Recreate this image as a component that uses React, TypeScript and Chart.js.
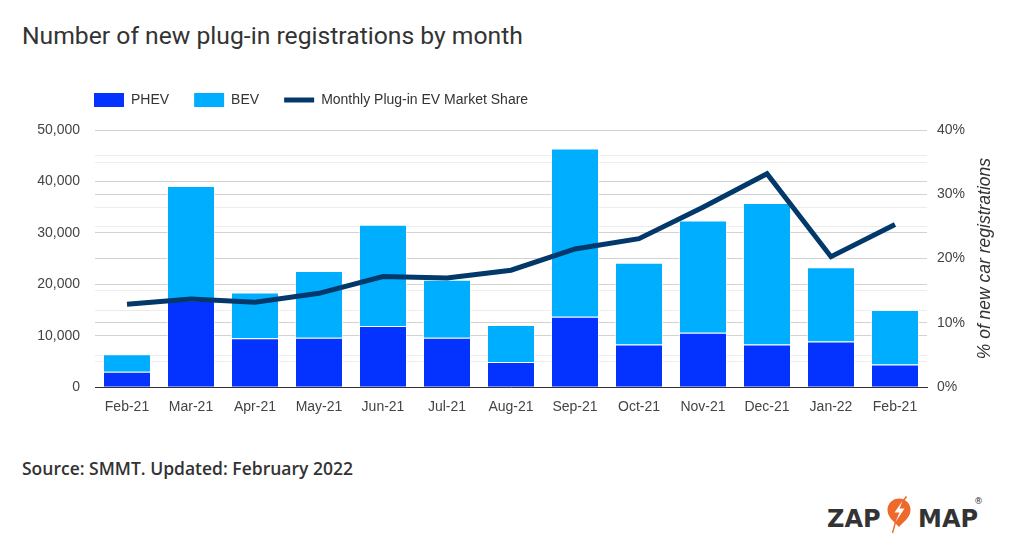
import React, { useEffect, useRef } from 'react';
import { Chart, registerables } from 'chart.js';

Chart.register(...registerables);

const categories = ['Feb-21', 'Mar-21', 'Apr-21', 'May-21', 'Jun-21', 'Jul-21', 'Aug-21', 'Sep-21', 'Oct-21', 'Nov-21', 'Dec-21', 'Jan-22', 'Feb-21'];
const phevValues = [3000, 16900, 9500, 9600, 11900, 9600, 4900, 13700, 8300, 10600, 8300, 8900, 4400];
const bevValues = [3400, 22200, 8900, 13000, 19700, 11300, 7200, 32700, 15900, 21800, 27500, 14400, 10600];
const shareValues = [12.9, 13.7, 13.2, 14.6, 17.2, 17.0, 18.2, 21.5, 23.1, 28.0, 33.2, 20.3, 25.3];
const leftTicks = [0, 10000, 20000, 30000, 40000, 50000];
const rightTicks = [0, 10, 20, 30, 40];

const PHEV_COLOR = '#0433ff';
const BEV_COLOR = '#00aeff';
const LINE_COLOR = '#03386a';
const MAJOR_GRID = '#d2d2d2';
const MINOR_GRID = '#ececec';
const TICK_COLOR = '#444444';
const FONT = "'Liberation Sans', Arial, sans-serif";

export default function App() {
  const canvasRef = useRef<HTMLCanvasElement | null>(null);

  useEffect(() => {
    if (!canvasRef.current) return;
    Chart.defaults.font.family = FONT;

    const legendSpacing = {
      id: 'legendSpacing',
      beforeInit(chart: any) {
        const legend = chart.legend;
        if (legend) {
          const origFit = legend.fit;
          legend.fit = function () {
            origFit.call(this);
            this.height += 13;
          };
        }
      },
      afterLayout(chart: any) {
        if (chart.legend) {
          chart.legend.left += 69;
          chart.legend.right += 69;
        }
      },
    };

    const rightTitle = {
      id: 'rightTitle',
      afterDraw(chart: any) {
        const ctx = chart.ctx;
        const area = chart.chartArea;
        const scale = chart.scales.y1;
        ctx.save();
        ctx.translate(scale.left + 58, (area.top + area.bottom) / 2);
        ctx.rotate(-Math.PI / 2);
        ctx.font = `italic 17.5px ${FONT}`;
        ctx.fillStyle = '#333333';
        ctx.textAlign = 'center';
        ctx.textBaseline = 'middle';
        ctx.fillText('% of new car registrations', 0, 0);
        ctx.restore();
      },
    };

    const chart = new Chart(canvasRef.current, {
      type: 'bar',
      data: {
        labels: categories,
        datasets: [
          {
            type: 'bar',
            label: 'PHEV',
            data: phevValues,
            backgroundColor: PHEV_COLOR,
            borderColor: 'rgba(255,255,255,0.55)',
            borderWidth: 1,
            yAxisID: 'y',
            order: 2,
            barPercentage: 0.75,
            categoryPercentage: 1,
          },
          {
            type: 'bar',
            label: 'BEV',
            data: bevValues,
            backgroundColor: BEV_COLOR,
            borderColor: 'rgba(255,255,255,0.55)',
            borderWidth: 1,
            yAxisID: 'y',
            order: 2,
            barPercentage: 0.75,
            categoryPercentage: 1,
          },
          {
            type: 'line',
            label: 'Monthly Plug-in EV Market Share',
            data: shareValues,
            borderColor: LINE_COLOR,
            backgroundColor: LINE_COLOR,
            borderWidth: 5,
            pointRadius: 0,
            pointHoverRadius: 0,
            tension: 0,
            yAxisID: 'y1',
            order: 0,
          } as any,
        ],
      },
      options: {
        responsive: true,
        maintainAspectRatio: false,
        animation: false,
        layout: { padding: { left: 0, right: 0, top: 0, bottom: 4 } },
        plugins: {
          legend: {
            display: true,
            position: 'top',
            align: 'start',
            labels: {
              usePointStyle: true,
              pointStyleWidth: 30,
              boxHeight: 14,
              padding: 25,
              color: '#333333',
              font: { size: 14, family: FONT },
              generateLabels: (c: any) =>
                c.data.datasets.map((ds: any, i: number) => ({
                  text: ds.label,
                  fillStyle: ds.backgroundColor,
                  strokeStyle: i === 2 ? LINE_COLOR : ds.backgroundColor,
                  lineWidth: i === 2 ? 5 : 0,
                  pointStyle: i === 2 ? 'line' : 'rect',
                  hidden: false,
                  datasetIndex: i,
                  fontColor: '#333333',
                })),
            },
          },
          tooltip: { enabled: false },
        },
        scales: {
          x: {
            stacked: true,
            grid: { display: false, drawTicks: false },
            border: { display: true, color: '#333333', width: 1 },
            ticks: { color: TICK_COLOR, font: { size: 14 }, padding: 12, maxRotation: 0, autoSkip: false },
          },
          y: {
            stacked: true,
            position: 'left',
            min: 0,
            max: 50000,
            afterFit: (s: any) => { s.width = 95; },
            afterBuildTicks: (s: any) => {
              const t: any[] = [];
              for (let v = 0; v <= 50000; v += 5000) t.push({ value: v });
              s.ticks = t;
            },
            grid: {
              drawTicks: false,
              color: (ctx: any) => (leftTicks.includes(ctx.tick?.value) ? MAJOR_GRID : MINOR_GRID),
            },
            border: { display: false },
            ticks: {
              autoSkip: false,
              padding: 15,
              color: TICK_COLOR,
              font: { size: 14 },
              callback: (v: any) => (leftTicks.includes(Number(v)) ? Number(v).toLocaleString('en-US') : ''),
            },
          },
          y1: {
            position: 'right',
            min: 0,
            max: 40,
            afterFit: (s: any) => { s.width = 86; },
            afterBuildTicks: (s: any) => {
              const t: any[] = [];
              for (let v = 0; v <= 40; v += 5) t.push({ value: v });
              s.ticks = t;
            },
            grid: {
              drawTicks: false,
              drawOnChartArea: true,
              color: (ctx: any) => (rightTicks.includes(ctx.tick?.value) ? MAJOR_GRID : MINOR_GRID),
            },
            border: { display: false },
            ticks: {
              autoSkip: false,
              padding: 10,
              color: TICK_COLOR,
              font: { size: 14 },
              callback: (v: any) => (rightTicks.includes(Number(v)) ? `${v}%` : ''),
            },
          },
        },
      },
      plugins: [legendSpacing, rightTitle],
    } as any);

    return () => chart.destroy();
  }, []);

  return (
    <div style={{ position: 'absolute', left: 0, top: 0, width: 1013, height: 545, background: '#ffffff', overflow: 'hidden' }}>
      <div
        style={{
          position: 'absolute', left: 22, top: 24, fontFamily: 'Roboto, sans-serif', fontSize: 24.7,
          lineHeight: '24px', color: '#333333', whiteSpace: 'nowrap',
        }}
      >
        Number of new plug-in registrations by month
      </div>
      <div style={{ position: 'absolute', left: 0, top: 68, width: 1013, height: 364 }}>
        <canvas ref={canvasRef} />
      </div>
      <div
        style={{
          position: 'absolute', left: 22, top: 459, fontFamily: "'Open Sans', sans-serif", fontSize: 17.5,
          fontWeight: 600, lineHeight: '18px', color: '#333333', whiteSpace: 'nowrap',
        }}
      >
        Source: SMMT. Updated: February 2022
      </div>
      <div
        style={{
          position: 'absolute', left: 827, top: 507, fontFamily: "'DejaVu Sans', sans-serif", fontSize: 24,
          fontWeight: 700, lineHeight: '24px', color: '#333333', whiteSpace: 'nowrap',
        }}
      >
        ZAP
      </div>
      <svg style={{ position: 'absolute', left: 885, top: 496 }} width={30} height={38} viewBox="0 0 30 38">
        <path d="M14 31 C10 26.5 2.5 21.5 2.5 14 A11.5 11.5 0 0 1 25.5 14 C25.5 21.5 18 26.5 14 31 Z" fill="#ee6a2c" />
        <path d="M17.5 5 L9.5 16.5 L14.5 16.5 L10.5 26 L19.5 12.5 L14.5 12.5 Z" fill="#ffffff" />
        <path d="M21.5 0.5 L18 5" stroke="#ee6a2c" strokeWidth={1.6} />
        <path d="M10.5 26 L7.5 37" stroke="#ee6a2c" strokeWidth={1.4} />
      </svg>
      <div
        style={{
          position: 'absolute', left: 918, top: 507, fontFamily: "'DejaVu Sans', sans-serif", fontSize: 24,
          fontWeight: 700, lineHeight: '24px', color: '#333333', whiteSpace: 'nowrap',
        }}
      >
        MAP
      </div>
      <div
        style={{
          position: 'absolute', left: 974, top: 497, fontFamily: "'DejaVu Sans', sans-serif", fontSize: 9,
          lineHeight: '9px', color: '#333333',
        }}
      >
        ®
      </div>
    </div>
  );
}
